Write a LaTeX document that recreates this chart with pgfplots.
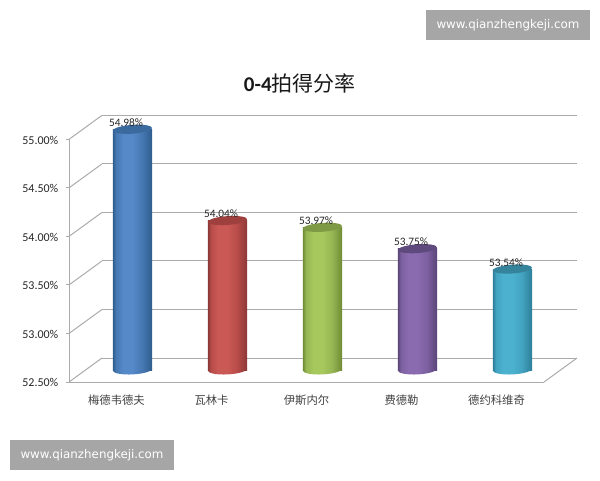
\documentclass[border=0pt]{standalone}
\usepackage{fontspec}
\usepackage{pgfplots}
\pgfplotsset{compat=1.18}
\setmainfont{Carlito}
\newfontfamily\cjk{Noto Sans CJK SC}
\newfontfamily\wm{DejaVu Sans}

% one image pixel = 0.75pt, the page is 450pt x 360pt
\definecolor{gridc}{HTML}{ABABAB}
\definecolor{wmbox}{HTML}{A6A6A6}

% name, edge, body, light, cap
\newcommand\defcyl[5]{%
  \definecolor{#1e}{HTML}{#2}\definecolor{#1b}{HTML}{#3}%
  \definecolor{#1l}{HTML}{#4}\definecolor{#1c}{HTML}{#5}%
  \pgfdeclarehorizontalshading{#1s}{100bp}{%
    color(0bp)=(#1e); color(25bp)=(#1e); color(29bp)=(#1b); color(38bp)=(#1l); color(50bp)=(#1l);
    color(62bp)=(#1b); color(71bp)=(#1e!70!#1b); color(75bp)=(#1e); color(100bp)=(#1e)}%
  \pgfdeclareplotmark{#1top}{%
    \pgfsetfillcolor{#1c}%
    \pgfpathellipse{\pgfpointorigin}{\pgfqpoint{14.66pt}{1.03pt}}{\pgfqpoint{-0.23pt}{3.3pt}}%
    \pgfusepathqfill}%
  \pgfdeclareplotmark{#1base}{%
    \pgfpathellipse{\pgfqpoint{0pt}{0.3pt}}{\pgfqpoint{14.68pt}{0.77pt}}{\pgfqpoint{-0.19pt}{3.6pt}}%
    \pgfshadepath{#1s}{0}\pgfusepath{discard}}%
}
\defcyl{blue}{2E5C8E}{4678B2}{5589C8}{3B6A9E}
\defcyl{red}{8C3836}{B84C49}{CA5955}{9E403D}
\defcyl{green}{6F8B34}{96B653}{A6C85C}{7E9A45}
\defcyl{purple}{5A4478}{7C60A0}{8A6BB0}{5F4A7E}
\defcyl{teal}{2B7F99}{43A3C0}{4BB1CF}{35849C}

% x, value, colour
\newcommand\cyl[3]{%
  \addplot[only marks, mark=#3base] coordinates {(#1,52.5)};
  \addplot[ybar, bar width=29.4pt, bar shift=0pt, draw=none, shade, shading=#3s] coordinates {(#1,#2)};
  \addplot[only marks, mark=#3top, nodes near coords, point meta=y,
    every node near coord/.append style={anchor=center, xshift=-4.8pt, yshift=5pt,
      font=\fontsize{8.5pt}{10pt}\selectfont, text=black!85,
      /pgf/number format/.cd, fixed, fixed zerofill, precision=2, assume math mode=true, /tikz/.cd},
    nodes near coords={\pgfmathprintnumber{\pgfplotspointmeta}\%}] coordinates {(#1,#2)};
}

\begin{document}
\begin{tikzpicture}
\useasboundingbox (0,0) rectangle (450pt,360pt);

% back wall
\begin{axis}[
    name=back, at={(76.5pt,91.5pt)}, anchor=south west,
    scale only axis, width=356.25pt, height=182pt,
    xmin=0, xmax=5, ymin=52.5, ymax=55,
    axis line style={draw=none}, xtick=\empty,
    ytick={52.5,53,53.5,54,54.5,55}, yticklabels={},
    major tick length=0pt,
    ymajorgrids, grid style={gridc, line width=0.75pt},
    clip=false,
]
\end{axis}

% front frame with the labels
\begin{axis}[
    at={(51.75pt,73.5pt)}, anchor=south west,
    scale only axis, width=356.25pt, height=182pt,
    xmin=0, xmax=5, ymin=52.5, ymax=55,
    axis x line*=bottom, axis y line*=left,
    axis line style={gridc, line width=0.75pt, -},
    ytick={52.5,53,53.5,54,54.5,55},
    yticklabel={\pgfmathprintnumber{\tick}\%},
    y tick label style={/pgf/number format/.cd, fixed, fixed zerofill, precision=2, assume math mode=true, /tikz/.cd},
    yticklabel style={font=\fontsize{9pt}{11pt}\selectfont, text=black!85, xshift=-2pt, yshift=-0.7pt},
    ytick style={gridc, line width=0.75pt},
    xtick={0.5,1.5,2.5,3.5,4.5},
    xticklabels={梅德韦德夫,瓦林卡,伊斯内尔,费德勒,德约科维奇},
    xticklabel style={font=\cjk\fontsize{8.5pt}{10pt}\selectfont, text=black!75, yshift=-4pt},
    xtick style={draw=none},
    extra x ticks={0,1,2,3,4,5}, extra x tick labels={},
    extra x tick style={tick style={gridc, draw=gridc, line width=0.75pt}},
    major tick length=2.5pt, tick align=outside,
    title={{\bfseries 0-4}{\cjk 拍得分率}},
    title style={at={(0.486,1)}, anchor=center, yshift=36pt, font=\fontsize{15.75pt}{18pt}\selectfont, text=black!90},
    clip=false,
]
\addplot[gridc, line width=0.75pt, mark=none] coordinates {(0,52.5) (0.347,52.747)};
\addplot[gridc, line width=0.75pt, mark=none] coordinates {(0,53) (0.347,53.247)};
\addplot[gridc, line width=0.75pt, mark=none] coordinates {(0,53.5) (0.347,53.747)};
\addplot[gridc, line width=0.75pt, mark=none] coordinates {(0,54) (0.347,54.247)};
\addplot[gridc, line width=0.75pt, mark=none] coordinates {(0,54.5) (0.347,54.747)};
\addplot[gridc, line width=0.75pt, mark=none] coordinates {(0,55) (0.347,55.247)};
\addplot[gridc, line width=0.75pt, mark=none] coordinates {(5,52.5) (5.347,52.747)};
\end{axis}

% cylinders, on the plane half way back
\begin{axis}[
    at={(63.75pt,82.5pt)}, anchor=south west,
    scale only axis, width=356.25pt, height=182pt,
    xmin=-0.5, xmax=4.5, ymin=52.5, ymax=55,
    hide axis, clip=false,
]
\cyl{0}{54.98}{blue}
\cyl{1}{54.04}{red}
\cyl{2}{53.97}{green}
\cyl{3}{53.75}{purple}
\cyl{4}{53.54}{teal}
\end{axis}

% watermarks
\node[fill=wmbox, text=white, font=\wm\fontsize{8.9pt}{10pt}\selectfont, minimum width=123pt, minimum height=22.5pt, inner sep=0pt, anchor=center]
  at (381pt,341.25pt) {www.qianzhengkeji.com};
\node[fill=wmbox, text=white, font=\wm\fontsize{8.9pt}{10pt}\selectfont, minimum width=123pt, minimum height=22.5pt, inner sep=0pt, anchor=center]
  at (69pt,18.75pt) {www.qianzhengkeji.com};
\end{tikzpicture}
\end{document}
